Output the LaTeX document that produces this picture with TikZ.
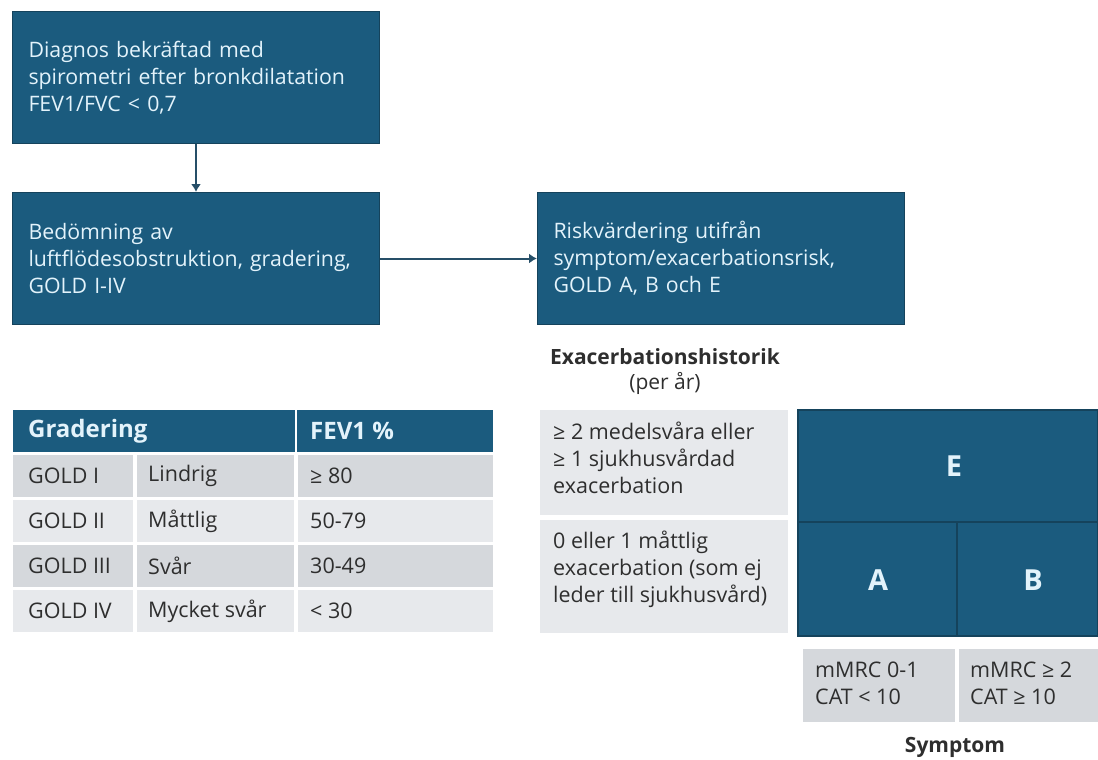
\documentclass[tikz,border=0pt]{standalone}
\usepackage{fontspec}
\setmainfont{Open Sans}
\usetikzlibrary{arrows.meta}
\definecolor{gblue}{HTML}{1B5B7E}
\definecolor{gedge}{HTML}{15435C}
\definecolor{gtext}{HTML}{E3F3FB}
\definecolor{gdark}{HTML}{D5D8DC}
\definecolor{glight}{HTML}{E7E9EC}
\definecolor{gink}{HTML}{2E2E2E}
\definecolor{garrow}{HTML}{264F68}
\begin{document}
\begin{tikzpicture}[x=1pt,y=-1pt,
  bluebox/.style={draw=gedge, line width=1pt, fill=gblue, text=gtext, align=left, inner xsep=16pt, inner ysep=0pt, anchor=north west, minimum height=132pt, font=\fontsize{21.3}{27}\selectfont},
  conn/.style={draw=garrow, line width=2pt, -{Latex[length=8pt,width=10pt]}},
  ctext/.style={anchor=west, text=gink, inner sep=0pt, font=\fontsize{21.5}{27}\selectfont},
  htext/.style={anchor=west, text=gtext, inner sep=0pt, font=\bfseries\fontsize{24}{27}\selectfont},
  gtxt/.style={anchor=north west, text=gink, inner sep=0pt, align=left, font=\fontsize{21.5}{27}\selectfont},
  big/.style={text=gtext, font=\bfseries\fontsize{29}{32}\selectfont},
  lbl/.style={text=gink, font=\bfseries\fontsize{21}{26}\selectfont},
]
\useasboundingbox (0,0) rectangle (1098,760);
\fill[white] (0,0) rectangle (1098,760);

% flow boxes
\node[bluebox, text width=335pt] (b1) at (12,11) {Diagnos bekräftad med\\spirometri efter bronkdilatation\\FEV1/FVC < 0,7};
\node[bluebox, text width=335pt] (b2) at (12,192) {Bedömning av\\luftflödesobstruktion, gradering,\\GOLD I-IV};
\node[bluebox, text width=335pt] (b3) at (537,192) {Riskvärdering utifrån\\symptom/exacerbationsrisk,\\GOLD A, B och E};
\draw[conn] (b1.south) -- (b2.north);
\draw[conn] (b2.east) -- (b3.west);

% grading table
\fill[gblue] (13,410) rectangle (493,452);
\draw[white, line width=2pt] (296,410) -- (296,452);
\node[htext] (h1) at (28,431) {Gradering};
\node[htext] (h2) at (310,431) {FEV1 \%};
\foreach \r/\y/\c/\a/\b/\v in {1/455/gdark/GOLD I/Lindrig/≥ 80, 2/500/glight/GOLD II/Måttlig/50-79, 3/545/gdark/GOLD III/Svår/30-49, 4/590/glight/GOLD IV/Mycket svår/< 30}{
  \fill[\c] (13,\y) rectangle (133,\y+42);
  \fill[\c] (137,\y) rectangle (294,\y+42);
  \fill[\c] (298,\y) rectangle (493,\y+42);
  \node[ctext] (ra\r) at (28,\y+21) {\a};
  \node[ctext] (rb\r) at (148,\y+21) {\b};
  \node[ctext] (rc\r) at (310,\y+21) {\v};
}

% risk assessment
\node[lbl] (exh) at (665,357) {Exacerbationshistorik};
\node[text=gink, font=\fontsize{21}{26}\selectfont] (per) at (665,383) {(per år)};
\fill[glight] (540,410) rectangle (788,515);
\fill[glight] (540,520) rectangle (788,633);
\node[gtxt] (e1t) at (553,422) {≥ 2 medelsvåra eller\\≥ 1 sjukhusvårdad\\exacerbation};
\node[gtxt] (e2t) at (553,531) {0 eller 1 måttlig\\exacerbation (som ej\\leder till sjukhusvård)};

\fill[gblue] (798,410) rectangle (1098,636);
\draw[gedge, line width=1.2pt] (798,410) rectangle (1098,636);
\draw[gedge, line width=1.2pt] (798,522) -- (1098,522);
\draw[gedge, line width=1.2pt] (957,522) -- (957,636);
\node[big] (E) at (954,466) {E};
\node[big] (A) at (878,580) {A};
\node[big] (B) at (1033,580) {B};

\fill[gdark] (803,649) rectangle (955,722);
\fill[gdark] (959,649) rectangle (1098,722);
\node[gtxt] (s1) at (815,662) {mMRC 0-1\\CAT < 10};
\node[gtxt] (s2) at (970,662) {mMRC ≥ 2\\CAT ≥ 10};
\node[lbl] (sym) at (955,747) {Symptom};
\end{tikzpicture}
\end{document}
